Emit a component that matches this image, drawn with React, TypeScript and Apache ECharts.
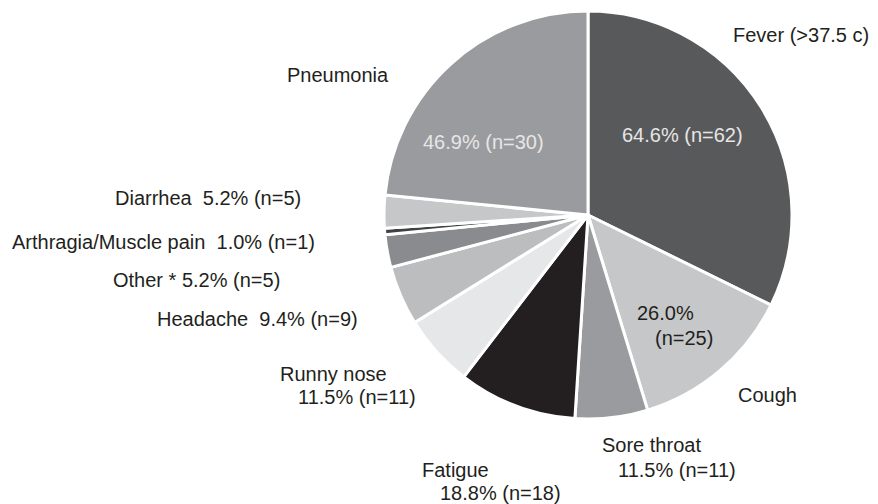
import React, { useEffect, useRef } from "react";
import * as echarts from "echarts";

const categories = ["Fever (>37.5 c)", "Cough", "Sore throat", "Fatigue", "Runny nose", "Headache", "Other *", "Arthragia/Muscle pain", "Diarrhea", "Pneumonia"];
const percents = [64.6, 26.0, 11.5, 18.8, 11.5, 9.4, 5.2, 1.0, 5.2, 46.9];
const counts = [62, 25, 11, 18, 11, 9, 5, 1, 5, 30];

const colors = ["#58595b", "#c6c7c9", "#9a9b9e", "#231f20", "#e6e7e8", "#bcbdbf", "#8a8b8e", "#414042", "#c6c7c8", "#9a9b9e"];

const pct = (i: number) => `${percents[i].toFixed(1)}%`;
const cnt = (i: number) => `(n=${counts[i]})`;
const stat = (i: number) => `${pct(i)} ${cnt(i)}`;

const DARK = "#231f20";
const LIGHT = "#e6e6e6";

// label pieces: text, left x, center y, color
const labelPieces: { t: string; x: number; y: number; c: string }[] = [
  { t: categories[0], x: 733, y: 35, c: DARK },
  { t: stat(0), x: 622, y: 135, c: LIGHT },
  { t: categories[9], x: 287, y: 75, c: DARK },
  { t: stat(9), x: 423, y: 142, c: LIGHT },
  { t: pct(1), x: 637, y: 313, c: DARK },
  { t: cnt(1), x: 655, y: 338, c: DARK },
  { t: categories[1], x: 738, y: 395, c: DARK },
  { t: categories[2], x: 602, y: 445, c: DARK },
  { t: stat(2), x: 618, y: 470, c: DARK },
  { t: categories[3], x: 422, y: 470, c: DARK },
  { t: stat(3), x: 440, y: 493, c: DARK },
  { t: categories[4], x: 280, y: 374, c: DARK },
  { t: stat(4), x: 298, y: 397, c: DARK },
  { t: `${categories[5]}  ${stat(5)}`, x: 157, y: 319, c: DARK },
  { t: `${categories[6]} ${stat(6)}`, x: 113, y: 280, c: DARK },
  { t: `${categories[7]}  ${stat(7)}`, x: 12, y: 242, c: DARK },
  { t: `${categories[8]}  ${stat(8)}`, x: 115, y: 198, c: DARK },
];

export default function App() {
  const ref = useRef<HTMLDivElement>(null);
  useEffect(() => {
    if (!ref.current) return;
    const chart = echarts.init(ref.current, null, { renderer: "svg" });
    chart.setOption({
      animation: false,
      backgroundColor: "#ffffff",
      series: [
        {
          type: "pie",
          center: [588, 215],
          radius: [0, 204],
          startAngle: 90,
          clockwise: true,
          silent: true,
          avoidLabelOverlap: false,
          label: { show: false },
          labelLine: { show: false },
          itemStyle: { borderColor: "#ffffff", borderWidth: 3 },
          data: categories.map((name, i) => ({
            name,
            value: percents[i],
            itemStyle: { color: colors[i] },
          })),
        },
      ],
      graphic: {
        elements: labelPieces.map((p) => ({
          type: "text",
          x: p.x,
          y: p.y,
          z: 100,
          zlevel: 0,
          silent: true,
          style: {
            text: p.t,
            fill: p.c,
            font: '20px "Liberation Sans", Arial, sans-serif',
            textAlign: "left",
            textVerticalAlign: "middle",
          },
        })),
      },
    });
    return () => chart.dispose();
  }, []);
  return (
    <div
      ref={ref}
      style={{ position: "absolute", left: 0, top: 0, width: 878, height: 504 }}
    />
  );
}
